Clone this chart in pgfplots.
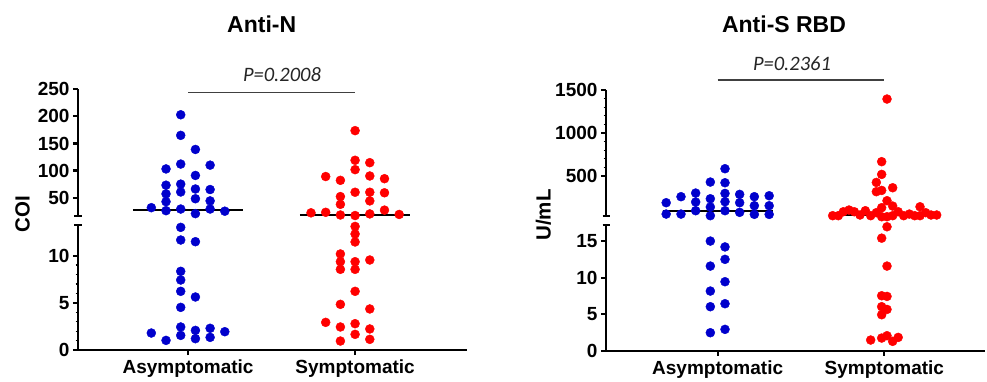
\documentclass[border=0pt]{standalone}
\usepackage{pgfplots}
\pgfplotsset{compat=1.18}
\usepackage{fontspec}
\setmainfont{Liberation Sans}
\newfontfamily\pfont{Carlito}
\definecolor{dotblue}{RGB}{0,0,204}
\definecolor{dotred}{RGB}{255,0,0}
\pgfplotsset{
  seg/.style={
    scale only axis,
    anchor=south west,
    clip=false,
    axis y line*=left,
    axis line style={line width=2.2pt,-},
    every tick/.style={black,line width=2.2pt},
    major tick length=5pt,
    minor tick length=2.5pt,
    every minor tick/.style={black,line width=1.2pt},
    tick align=outside,
    ytick pos=left,
    tick label style={font=\bfseries\fontsize{19}{19}\selectfont},
    /pgf/number format/assume math mode=true,
    /pgf/number format/1000 sep={},
    scaled y ticks=false,
    extra tick style={tick align=center,major tick length=7pt},
    extra y tick labels={},
  },
  upper/.style={seg, axis x line=none},
  lower/.style={seg, axis x line*=bottom, xtick={1,2},
    xticklabels={Asymptomatic,Symptomatic}, xtick pos=bottom,
    x tick label style={yshift=-1pt}},
  pb/.style={only marks, mark=*, mark size=4.5pt, color=dotblue, mark options={draw=none,fill=dotblue}},
  pr/.style={only marks, mark=*, mark size=4.5pt, color=dotred, mark options={draw=none,fill=dotred}},
  med/.style={black, line width=2pt, no marks},
}
\begin{document}
\begin{tikzpicture}
\useasboundingbox (0pt,0pt) rectangle (987pt,381pt);
% ---------------- Anti-N upper
\begin{axis}[upper, at={(78pt,165.3pt)}, width=389pt, height=126.4pt,
  xmin=0.341, xmax=2.67, ymin=16.7, ymax=250,
  ytick={50,100,150,200,250}, extra y ticks={16.7}]
\addplot[pb] coordinates {
(0.956,203) (0.956,165) (0.956,112) (0.956,75) (0.956,60.5) (0.956,29)
(1.044,139) (1.044,91) (1.044,66) (1.044,48) (1.044,20.5)
(0.868,103) (0.868,73) (0.868,57) (0.868,42.6) (0.868,26)
(1.132,110) (1.132,65) (1.132,44) (1.132,29)
(0.780,31.5) (1.220,25)
};
\addplot[pr] coordinates {
(2,173.7) (2,119) (2,101.7) (2,60) (2,17)
(1.912,82) (1.912,52) (1.912,37.7) (1.912,18)
(2.088,114.6) (2.088,90) (2.088,60) (2.088,44) (2.088,20)
(2.176,85) (2.176,59) (2.176,27)
(1.824,89) (1.824,23)
(1.736,22) (2.264,19)
};
\addplot[med] coordinates {(0.669,26.6) (1.331,26.6)};
\addplot[med] coordinates {(1.669,18) (2.331,18)};
\addplot[black!75, line width=1.1pt, no marks] coordinates {(1,243.7) (2,243.7)};
\end{axis}
% ---------------- Anti-N lower
\begin{axis}[lower, at={(78pt,31pt)}, width=389pt, height=125pt,
  xmin=0.341, xmax=2.67, ymin=0, ymax=13.25,
  ytick={0,5,10}, minor y tick num=4, extra y ticks={13.25}]
\addplot[pb] coordinates {
(0.956,13.0) (0.956,11.66) (0.956,8.34) (0.956,7.42) (0.956,6.22) (0.956,4.52) (0.956,2.44) (0.956,1.55)
(1.044,11.48) (1.044,5.62) (1.044,2.08) (1.044,1.2)
(0.868,1.02) (1.132,2.3) (1.132,1.34) (0.780,1.8) (1.220,1.94)
};
\addplot[pr] coordinates {
(2,13.1) (2,12.3) (2,11.45) (2,9.36) (2,8.55) (2,6.22) (2,2.79) (2,1.66)
(1.912,10.18) (1.912,9.36) (1.912,8.55) (1.912,4.84) (1.912,2.44) (1.912,0.95)
(2.088,9.54) (2.088,4.35) (2.088,2.23) (2.088,1.13)
(1.824,2.93)
};
\end{axis}
% ---------------- Anti-S RBD upper
\begin{axis}[upper, at={(606pt,165.3pt)}, width=379pt, height=125.7pt,
  xmin=0.33, xmax=2.604, ymin=39, ymax=1500,
  ytick={500,1000,1500}, minor y tick num=4, extra y ticks={39}]
\addplot[pb] coordinates {
(0.691,190) (0.691,58)
(0.780,260) (0.780,58)
(0.868,302) (0.868,198) (0.868,97)
(0.956,430) (0.956,236) (0.956,140) (0.956,39)
(1.044,585) (1.044,422) (1.044,298) (1.044,202) (1.044,97)
(1.132,287) (1.132,190) (1.132,78)
(1.220,260) (1.220,155) (1.220,55)
(1.309,271) (1.309,155) (1.309,54)
};
\addplot[pr] coordinates {
(2.016,1395) (1.984,667) (1.984,519) (1.952,426) (1.952,318) (1.984,333)
(2.050,364) (2.016,213) (2.050,151) (1.984,132) (2.214,143)
(1.690,39) (1.724,39) (1.754,85) (1.788,105) (1.820,85) (1.854,47)
(1.886,97) (1.918,39) (1.952,74) (1.984,27) (2.016,27) (2.050,39)
(2.083,85) (2.116,39) (2.150,58) (2.182,39) (2.214,39) (2.248,74)
(2.280,47) (2.314,47)
};
\addplot[med] coordinates {(0.669,97) (1.331,97)};
\addplot[med] coordinates {(1.667,47) (2.333,47)};
\addplot[black!75, line width=1.1pt, no marks] coordinates {(1,1616) (2,1616)};
\end{axis}
% ---------------- Anti-S RBD lower
\begin{axis}[lower, at={(606pt,30.3pt)}, width=379pt, height=125.7pt,
  xmin=0.33, xmax=2.604, ymin=0, ymax=17.2,
  ytick={0,5,10,15}, extra y ticks={17.2}]
\addplot[pb] coordinates {
(0.956,15.0) (0.956,11.58) (0.956,8.16) (0.956,6.02) (0.956,2.46)
(1.044,14.2) (1.044,12.5) (1.044,9.44) (1.044,6.43) (1.044,2.92)
};
\addplot[pr] coordinates {
(2.016,16.96) (1.984,15.4) (2.016,11.58) (1.984,7.52) (2.016,7.43)
(1.984,6.02) (2.016,5.65) (1.984,4.92) (1.918,1.46) (1.984,1.73)
(2.016,2.05) (2.050,1.28) (2.083,1.82)
};
\end{axis}
% ---------------- texts
\node[font=\bfseries\fontsize{23}{23}\selectfont] at (261.7pt,357pt) {Anti-N};
\node[font=\bfseries\fontsize{23}{23}\selectfont] at (784pt,357pt) {Anti-S RBD};
\node[font=\pfont\itshape\fontsize{20.5}{20.5}\selectfont, text=black!85] at (282pt,306pt) {P=0.2008};
\node[font=\pfont\itshape\fontsize{20.5}{20.5}\selectfont, text=black!85] at (792pt,317pt) {P=0.2361};
\node[rotate=90, font=\bfseries\fontsize{20.5}{20.5}\selectfont] at (22.5pt,166.5pt) {COI};
\node[rotate=90, font=\bfseries\fontsize{20.5}{20.5}\selectfont] at (543.5pt,166pt) {U/mL};
\end{tikzpicture}
\end{document}
